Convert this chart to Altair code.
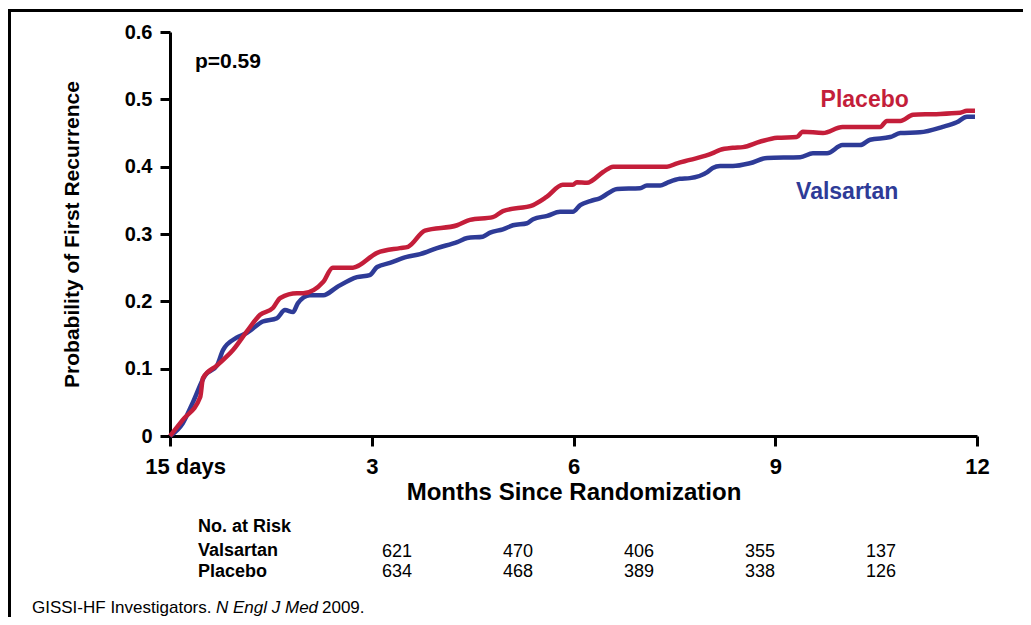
import altair as alt
import pandas as pd

# ---- data ----
val_months = [0, 0.19, 0.34, 0.52, 0.70, 0.79, 0.99, 1.14, 1.38, 1.59, 1.71, 1.83, 1.90, 2.08, 2.28,
              2.48, 2.78, 2.97, 3.08, 3.27, 3.52, 3.72, 3.97, 4.27, 4.42, 4.65, 4.76, 4.95, 5.10,
              5.31, 5.40, 5.61, 5.80, 5.99, 6.10, 6.25, 6.39, 6.65, 6.99, 7.09, 7.29, 7.39, 7.58,
              7.73, 7.99, 8.07, 8.18, 8.37, 8.62, 8.88, 9.37, 9.56, 9.77, 10.0, 10.26, 10.41,
              10.71, 10.86, 11.15, 11.49, 11.70, 11.85, 11.97]
val_prob = [0, 0.019, 0.05, 0.09, 0.105, 0.128, 0.146, 0.153, 0.17, 0.175, 0.187, 0.184, 0.197,
            0.209, 0.209, 0.221, 0.236, 0.239, 0.251, 0.257, 0.266, 0.27, 0.279, 0.288, 0.294,
            0.296, 0.302, 0.307, 0.313, 0.316, 0.322, 0.327, 0.333, 0.333, 0.343, 0.349, 0.353,
            0.367, 0.368, 0.372, 0.372, 0.376, 0.382, 0.383, 0.392, 0.398, 0.401, 0.401, 0.405,
            0.413, 0.414, 0.42, 0.42, 0.432, 0.432, 0.44, 0.444, 0.45, 0.451, 0.459, 0.466,
            0.474, 0.474]

plc_months = [0, 0.19, 0.45, 0.49, 0.70, 0.94, 1.14, 1.34, 1.53, 1.64, 1.89, 1.98, 2.28, 2.42,
              2.72, 3.08, 3.42, 3.54, 3.79, 4.27, 4.46, 4.80, 4.95, 5.40, 5.60, 5.84, 5.99, 6.05,
              6.20, 6.44, 6.59, 6.89, 7.39, 7.54, 7.73, 8.07, 8.18, 8.37, 8.52, 8.77, 9.03, 9.32,
              9.41, 9.71, 10.0, 10.56, 10.66, 10.86, 11.05, 11.35, 11.75, 11.85, 11.97]
plc_prob = [0, 0.024, 0.058, 0.086, 0.105, 0.128, 0.155, 0.18, 0.19, 0.205, 0.212, 0.212, 0.229,
            0.25, 0.25, 0.272, 0.279, 0.281, 0.305, 0.313, 0.321, 0.325, 0.334, 0.343, 0.355,
            0.373, 0.373, 0.377, 0.376, 0.392, 0.40, 0.40, 0.40, 0.405, 0.41, 0.42, 0.425,
            0.428, 0.429, 0.437, 0.443, 0.444, 0.452, 0.45, 0.459, 0.459, 0.468, 0.468, 0.477,
            0.478, 0.48, 0.483, 0.483]

x_ticks = [0, 3, 6, 9, 12]
y_ticks = [0, 0.1, 0.2, 0.3, 0.4, 0.5, 0.6]

series_names = ["Valsartan", "Placebo"]
series_colors = ["#2E3B97", "#C41E3A"]

risk_at_val = [621, 470, 406, 355, 137]
risk_at_plc = [634, 468, 389, 338, 126]
risk_pos = [3.375, 5.175, 6.974, 8.773, 10.572]

FONT = "Liberation Sans"

val_df = pd.DataFrame({"month": val_months, "prob": val_prob})
plc_df = pd.DataFrame({"month": plc_months, "prob": plc_prob})

x_enc = alt.X(
    "month:Q",
    scale=alt.Scale(domain=[0, 12], nice=False, zero=False),
    axis=alt.Axis(
        values=x_ticks,
        labelExpr="datum.value == 0 ? '15 days' : datum.value",
        labelOffset={"expr": "datum.value == 0 ? 15 : 0"},
        labelFlush=False, labelOverlap=False,
        title="Months Since Randomization",
        labelFont=FONT, labelFontSize=22, labelFontWeight="bold", labelColor="black",
        labelPadding=10,
        tickSize=10, tickWidth=3, tickColor="black",
        domainWidth=3, domainColor="black", grid=False,
        titleFont=FONT, titleFontSize=24, titleFontWeight="bold", titleColor="black",
        titlePadding=3,
    ),
)
y_enc = alt.Y(
    "prob:Q",
    scale=alt.Scale(domain=[0, 0.6], nice=False),
    axis=alt.Axis(
        values=y_ticks,
        labelExpr="datum.value == 0 ? '0' : format(datum.value, '.1f')",
        labelFlush=False, labelOverlap=False,
        title="Probability of First Recurrence",
        labelFont=FONT, labelFontSize=20, labelFontWeight="bold", labelColor="black",
        labelPadding=8,
        tickSize=10, tickWidth=3, tickColor="black",
        domainWidth=3, domainColor="black", grid=False,
        titleFont=FONT, titleFontSize=21, titleFontWeight="bold", titleColor="black",
        titlePadding=42,
    ),
)

val_line = alt.Chart(val_df).mark_line(color=series_colors[0], strokeWidth=4.5,
                                       interpolate="monotone").encode(x=x_enc, y=y_enc)
plc_line = alt.Chart(plc_df).mark_line(color=series_colors[1], strokeWidth=4.5,
                                       interpolate="monotone").encode(x="month:Q", y="prob:Q")

# series labels
lab_df = pd.DataFrame({"name": series_names, "month": [10.07, 10.33], "prob": [0.352, 0.4886],
                       "color": series_colors})
series_labels = alt.Chart(lab_df).mark_text(font=FONT, fontSize=23, fontWeight="bold",
                                            align="center", baseline="alphabetic").encode(
    x="month:Q", y="prob:Q", text="name:N", color=alt.Color("color:N", scale=None))

p_df = pd.DataFrame({"txt": ["p=0.59"], "month": [0.372], "prob": [0.5466]})
p_label = alt.Chart(p_df).mark_text(font=FONT, fontSize=21, fontWeight="bold", align="left",
                                    baseline="alphabetic", color="black").encode(
    x="month:Q", y="prob:Q", text="txt:N")

# numbers at risk
risk_df = pd.DataFrame({"pos": risk_pos, "val": risk_at_val, "plc": risk_at_plc})
risk_val = alt.Chart(risk_df).mark_text(font=FONT, fontSize=18, align="center",
                                        baseline="alphabetic", color="black").encode(
    x="pos:Q", y=alt.value(525), text="val:Q")
risk_plc = alt.Chart(risk_df).mark_text(font=FONT, fontSize=18, align="center",
                                        baseline="alphabetic", color="black").encode(
    x="pos:Q", y=alt.value(545), text="plc:Q")

risk_head = alt.Chart(pd.DataFrame({"t": ["No. at Risk"]})).mark_text(
    font=FONT, fontSize=18, fontWeight="bold", align="left", baseline="alphabetic", color="black").encode(
    x=alt.value(28), y=alt.value(500), text="t:N")
row1 = alt.Chart(pd.DataFrame({"t": ["Valsartan"]})).mark_text(
    font=FONT, fontSize=18, fontWeight="bold", align="left", baseline="alphabetic", color="black").encode(
    x=alt.value(28), y=alt.value(524), text="t:N")
row2 = alt.Chart(pd.DataFrame({"t": ["Placebo"]})).mark_text(
    font=FONT, fontSize=18, fontWeight="bold", align="left", baseline="alphabetic", color="black").encode(
    x=alt.value(28), y=alt.value(545), text="t:N")

# footnote
fn1 = alt.Chart(pd.DataFrame({"t": ["GISSI-HF Investigators."]})).mark_text(
    font=FONT, fontSize=17, align="left", baseline="alphabetic", color="black").encode(
    x=alt.value(-138), y=alt.value(581), text="t:N")
fn2 = alt.Chart(pd.DataFrame({"t": ["N Engl J Med"]})).mark_text(
    font=FONT, fontSize=17, fontStyle="italic", align="left", baseline="alphabetic", color="black").encode(
    x=alt.value(46), y=alt.value(581), text="t:N")
fn3 = alt.Chart(pd.DataFrame({"t": ["2009."]})).mark_text(
    font=FONT, fontSize=17, align="left", baseline="alphabetic", color="black").encode(
    x=alt.value(152), y=alt.value(581), text="t:N")

# frame
frame_df = pd.DataFrame({"a": [0]})
frame_left = alt.Chart(frame_df).mark_rule(color="black", strokeWidth=3).encode(
    x=alt.value(-160.5), y=alt.value(-21.5), y2=alt.value(600))
frame_top = alt.Chart(frame_df).mark_rule(color="black", strokeWidth=3).encode(
    x=alt.value(-162), x2=alt.value(900), y=alt.value(-21.5))

chart = alt.layer(
    val_line, plc_line, series_labels, p_label, risk_val, risk_plc, risk_head, row1, row2,
    fn1, fn2, fn3, frame_left, frame_top,
).properties(
    width=807, height=404,
    padding={"left": 162, "top": 24, "right": 46, "bottom": 181},
    autosize=alt.AutoSizeParams(type="none"),
    background="white",
).configure_view(stroke=None)

chart.save("out.html", embed_options={"renderer": "svg", "actions": False})
